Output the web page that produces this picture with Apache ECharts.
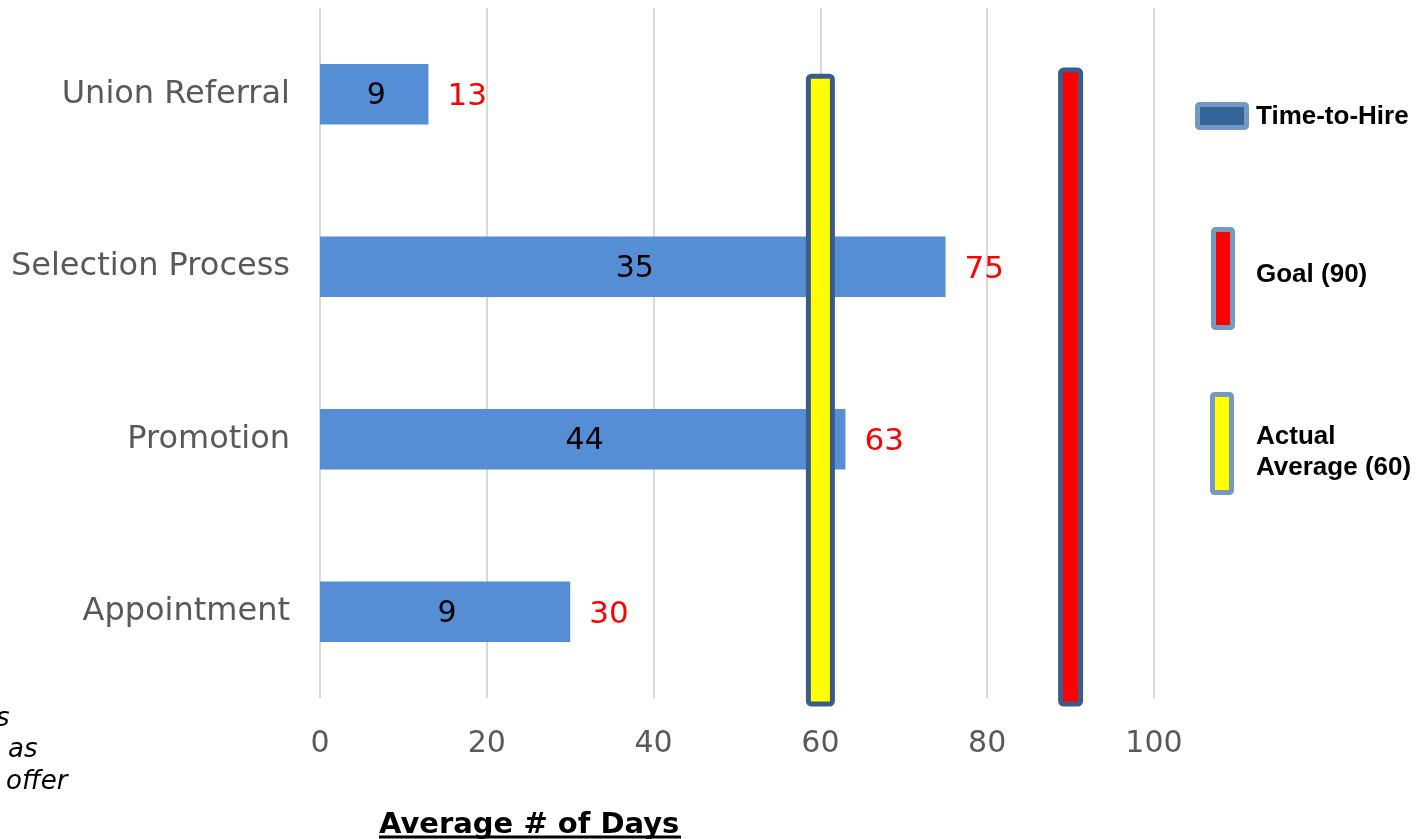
<!DOCTYPE html>
<html>
<head>
<meta charset="utf-8">
<script src="https://cdn.jsdelivr.net/npm/echarts@6/dist/echarts.min.js"></script>
<style>
  html, body { margin: 0; padding: 0; background: #fff; }
  #chart { width: 1425px; height: 839px; }
</style>
</head>
<body>
<div id="chart"></div>
<script>
// categories top to bottom
var categories = ['Union Referral', 'Selection Process', 'Promotion', 'Appointment'];
// time-to-hire (red label outside bar)
var timeToHire = [13, 75, 63, 30];
// number shown inside each bar
var innerValues = [9, 35, 44, 9];
// reference bars
var refNames = ['Actual Average (60)', 'Goal (90)'];
var refValues = [60, 90];
var refColors = ['#FFFF00', '#FF0000'];
var xTicks = { min: 0, max: 100, interval: 20 };

var chart = echarts.init(document.getElementById('chart'));

var refData = refValues.map(function (v, i) {
    return { name: refNames[i], value: [v, categories[0]], itemStyle: { color: refColors[i] } };
});

function txt(left, top, text, size, weight, family, style, extra) {
    var s = { text: text, fontSize: size, fontWeight: weight, fontFamily: family, fontStyle: style || 'normal', fill: '#000' };
    if (extra) { for (var k in extra) s[k] = extra[k]; }
    return { type: 'text', left: left, top: top, style: s };
}

var option = {
    animation: false,
    textStyle: { fontFamily: 'DejaVu Sans' },
    grid: { left: 320, right: 271, top: 8, bottom: 141 },
    xAxis: {
        type: 'value',
        min: xTicks.min, max: xTicks.max, interval: xTicks.interval,
        axisLine: { show: false },
        axisTick: { show: false },
        splitLine: { show: true, lineStyle: { color: '#D9D9D9', width: 2 } },
        axisLabel: { color: '#595959', fontSize: 30, margin: 31, fontFamily: 'DejaVu Sans' }
    },
    yAxis: {
        type: 'category',
        data: categories,
        inverse: true,
        axisLine: { show: false },
        axisTick: { show: false },
        axisLabel: { color: '#595959', fontSize: 32, margin: 30, fontFamily: 'DejaVu Sans', padding: [10, 0, 0, 0] }
    },
    series: [
        {
            type: 'bar',
            name: 'Time-to-Hire',
            data: timeToHire,
            barWidth: '35%',
            itemStyle: { color: '#558ED5' },
            label: {
                show: true, position: 'inside', color: '#000', fontSize: 30, offset: [2, 2],
                formatter: function (p) { return innerValues[p.dataIndex]; }
            },
            z: 2
        },
        {
            type: 'bar',
            data: timeToHire,
            barWidth: '35%',
            barGap: '-100%',
            itemStyle: { color: 'rgba(0,0,0,0)' },
            label: { show: true, position: 'right', distance: 19, color: '#FF0000', fontSize: 31, offset: [0, 3] },
            silent: true,
            z: 3
        },
        {
            type: 'custom',
            clip: false,
            z: 5,
            data: refData,
            encode: { x: 0, y: 1 },
            renderItem: function (params, api) {
                var v = api.value(0);
                var band = api.size([0, 1])[1];
                var top = api.coord([v, 0]);
                var bot = api.coord([v, categories.length - 1]);
                var w = params.dataIndex === 0 ? 24 : 20;
                var y0 = top[1] - (params.dataIndex === 0 ? 0.105 : 0.14) * band;
                var y1 = bot[1] + 0.535 * band;
                return {
                    type: 'rect',
                    shape: { x: top[0] - w / 2, y: y0, width: w, height: y1 - y0, r: 3 },
                    style: { fill: api.visual('color'), stroke: '#3A5C8C', lineWidth: 5 }
                };
            }
        }
    ],
    graphic: [
        // legend
        { type: 'rect', left: 1195, top: 102, shape: { width: 49, height: 23, r: 2 },
          style: { fill: '#346599', stroke: '#7599C2', lineWidth: 5 } },
        txt(1256, 104, 'Time-to-Hire', 26, 'bold', 'Liberation Sans'),
        { type: 'rect', left: 1211, top: 227, shape: { width: 19, height: 98, r: 2 },
          style: { fill: '#FF0000', stroke: '#7599C2', lineWidth: 5 } },
        txt(1256, 262, 'Goal (90)', 26, 'bold', 'Liberation Sans'),
        { type: 'rect', left: 1210, top: 392, shape: { width: 19, height: 98, r: 2 },
          style: { fill: '#FFFF00', stroke: '#7599C2', lineWidth: 5 } },
        txt(1256, 421, 'Actual\nAverage (60)', 26, 'bold', 'Liberation Sans', null, { lineHeight: 31 }),
        // cut-off note at the bottom left
        txt(-4, 706, 's', 26, 'normal', 'DejaVu Sans', 'italic'),
        txt(8, 737, 'as', 26, 'normal', 'DejaVu Sans', 'italic'),
        txt(6, 769, 'offer', 26, 'normal', 'DejaVu Sans', 'italic'),
        // axis title
        txt(379, 811, 'Average # of Days', 29, 'bold', 'DejaVu Sans'),
        { type: 'line', shape: { x1: 379, y1: 837, x2: 681, y2: 837 }, style: { stroke: '#000', lineWidth: 3 } }
    ]
};

chart.setOption(option);
</script>
</body>
</html>
